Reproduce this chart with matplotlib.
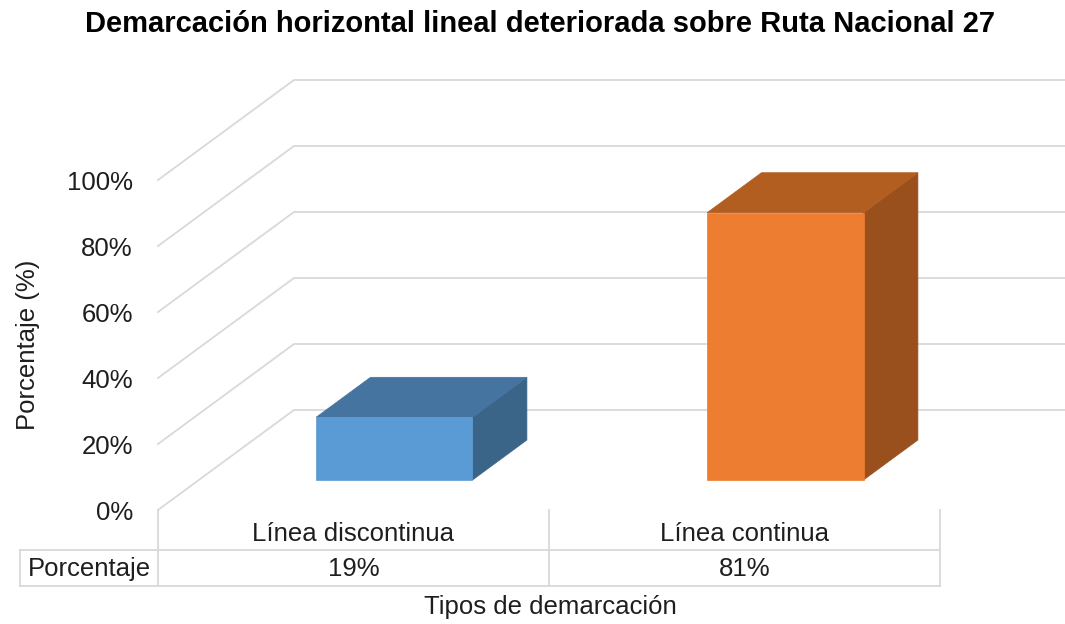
import matplotlib
matplotlib.use("Agg")
import matplotlib.pyplot as plt
from matplotlib.patches import Polygon

plt.rcParams['font.family'] = ['Liberation Sans', 'DejaVu Sans']

# ---- data ----
title = "Demarcación horizontal lineal deteriorada sobre Ruta Nacional 27"
categories = ["Línea discontinua", "Línea continua"]
values = [19, 81]
value_labels = ["19%", "81%"]
series_name = "Porcentaje"
y_ticks = [0, 20, 40, 60, 80, 100]
y_tick_labels = ["0%", "20%", "40%", "60%", "80%", "100%"]
x_title = "Tipos de demarcación"
y_title = "Porcentaje (%)"

front_colors = ["#5B9BD5", "#ED7D31"]
top_colors = ["#44749F", "#B35E21"]
side_colors = ["#3A6488", "#9A501D"]
grid_color = "#D9D9D9"
text_color = "#1E1E1E"
fs = 18.5

# ---- figure / layout (pixels) ----
W, H = 1065, 624
fig = plt.figure(figsize=(W / 100, H / 100), dpi=100)
x_left, x_right = 158, 940
y_zero, y_top = 510, 180
ax = fig.add_axes([x_left / W, (H - y_zero) / H, (x_right - x_left) / W, (y_zero - y_top) / H])
ax.set_xlim(0, len(categories))
ax.set_ylim(0, 100)
for s in ax.spines.values():
    s.set_visible(False)
ax.set_xticks([])
ax.set_yticks(y_ticks)
ax.set_yticklabels(y_tick_labels)
ax.tick_params(axis='y', length=0, pad=18, labelsize=fs, labelcolor=text_color)
ax.patch.set_visible(False)

ppx = (x_right - x_left) / len(categories)   # px per category
ppy = (y_zero - y_top) / 100.0                # px per percent
kx = 136 / ppx   # depth offset in data units (full depth)
ky = 100 / ppy


def proj(x, y, d):
    return (x + d * kx, y + d * ky)


# gridlines (left wall + back wall)
for v in y_ticks:
    p0 = proj(0, v, 0)
    p1 = proj(0, v, 1)
    p2 = (len(categories) + kx + 0.5, p1[1])
    xs, ys = zip(p0, p1, p2)
    ax.plot(xs, ys, color=grid_color, lw=1.3, clip_on=False, zorder=1, solid_joinstyle='miter')

# bars
bar_w = 0.4
d0, d1 = 0.3, 0.7
for i, v in enumerate(values):
    x0 = i + 0.5 - bar_w / 2
    x1 = i + 0.5 + bar_w / 2
    front = [proj(x0, 0, d0), proj(x1, 0, d0), proj(x1, v, d0), proj(x0, v, d0)]
    top = [proj(x0, v, d0), proj(x1, v, d0), proj(x1, v, d1), proj(x0, v, d1)]
    side = [proj(x1, 0, d0), proj(x1, 0, d1), proj(x1, v, d1), proj(x1, v, d0)]
    for poly, c in ((side, side_colors[i]), (top, top_colors[i]), (front, front_colors[i])):
        ax.add_patch(Polygon(poly, closed=True, facecolor=c, edgecolor=c, lw=0.5,
                             clip_on=False, zorder=3))

# data table
def py(p):
    return (y_zero - p) / ppy

x_tab_left = (20 - x_left) / ppx
tab_lw = 1.3
for xv in range(len(categories) + 1):
    ax.plot([xv, xv], [py(510), py(586)], color=grid_color, lw=tab_lw, clip_on=False)
for yp in (550, 586):
    ax.plot([x_tab_left, len(categories)], [py(yp), py(yp)], color=grid_color, lw=tab_lw, clip_on=False)
ax.plot([x_tab_left, x_tab_left], [py(550), py(586)], color=grid_color, lw=tab_lw, clip_on=False)

for i, (c, vl) in enumerate(zip(categories, value_labels)):
    ax.text(i + 0.5, py(534), c, ha='center', va='center', fontsize=fs, color=text_color, clip_on=False)
    ax.text(i + 0.5, py(569), vl, ha='center', va='center', fontsize=fs, color=text_color, clip_on=False)
ax.text((x_tab_left + 0) / 2, py(569), series_name, ha='center', va='center', fontsize=fs,
        color=text_color, clip_on=False)

# axis titles and chart title
fig.text(550 / W, 1 - 607 / H, x_title, ha='center', va='center', fontsize=fs, color=text_color)
fig.text(28 / W, 1 - 345 / H, y_title, ha='center', va='center', rotation=90, fontsize=fs,
         color=text_color)
fig.text(540 / W, 1 - 24 / H, title, ha='center', va='center', fontsize=21, fontweight='bold',
         color='black')

fig.savefig("out.png", dpi=100)
